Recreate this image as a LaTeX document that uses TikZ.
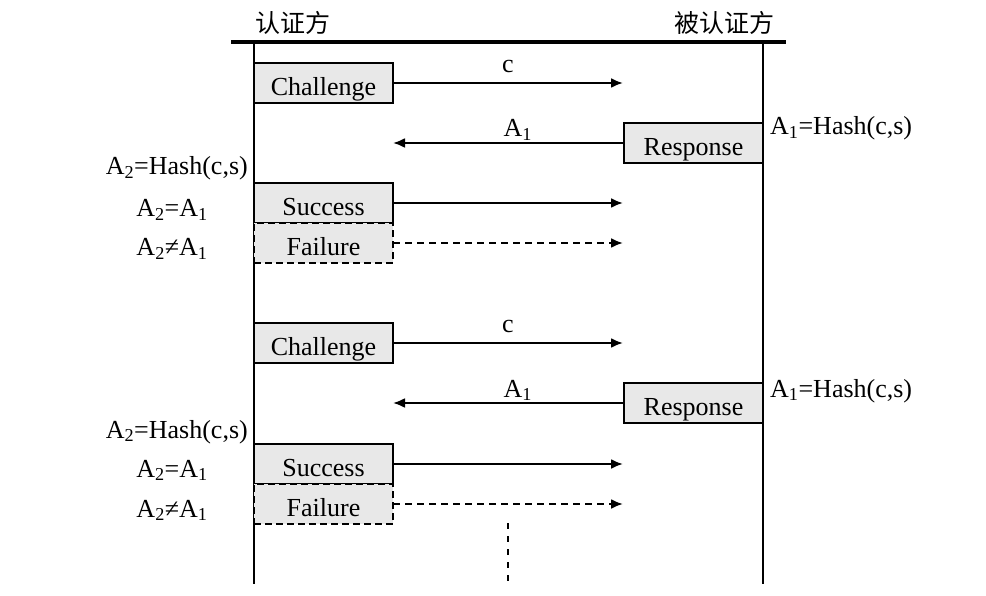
\documentclass[tikz,border=0pt]{standalone}
\usepackage{fontspec}
\setmainfont{Liberation Serif}
\newfontfamily\cjk{Noto Sans CJK SC}
\usetikzlibrary{arrows.meta}
\definecolor{boxgray}{RGB}{232,232,232}
\begin{document}
\begin{tikzpicture}[x=1pt,y=-1pt,
  font=\fontsize{26}{30}\selectfont,
  lane/.style={line width=2.4pt},
  msgbox/.style={draw, line width=2pt, fill=boxgray, minimum width=139pt, minimum height=40pt, inner sep=0pt, outer sep=0pt, text height=25pt, text depth=0pt, anchor=north west},
  failbox/.style={msgbox, dash pattern=on 7pt off 4pt},
  msg/.style={line width=2.2pt, -{Latex[length=12pt,width=10pt]}},
  failmsg/.style={msg, dash pattern=on 7pt off 5pt},
  lbl/.style={inner sep=0pt, anchor=base}]
\useasboundingbox (0,0) rectangle (986,596);

% headers
\node[inner sep=0pt, font=\cjk\fontsize{25}{28}\selectfont] (hv) at (293,23) {认证方};
\node[inner sep=0pt, font=\cjk\fontsize{25}{28}\selectfont] (hp) at (724,23) {被认证方};
\coordinate (tl) at (231,42);
\coordinate (tr) at (786,42);
\draw[line width=4pt] (tl) -- (tr);

% lifelines
\coordinate (Lt) at (254,42);
\coordinate (Lb) at (254,584);
\coordinate (Rt) at (763,42);
\coordinate (Rb) at (763,584);
\draw[lane] (Lt) -- (Lb);
\draw[lane] (Rt) -- (Rb);

% ---- round 1 ----
\node[msgbox] (ch1) at (254,63) {Challenge};
\coordinate (c1e) at (623,83);
\draw[msg] (ch1.east) -- node[lbl, yshift=10pt] (c1l) {c} (c1e);

\node[msgbox] (rs1) at (624,123) {Response};
\coordinate (a1e) at (393,143);
\draw[msg] (rs1.west) -- node[lbl, pos=0.46, yshift=6pt] (a1l) {A\textsubscript{1}} (a1e);
\node[lbl, anchor=base west] (r1h) at (770,135) {A\textsubscript{1}=Hash(c,s)};

\node[lbl, anchor=base east] (l1h) at (248,175) {A\textsubscript{2}=Hash(c,s)};
\node[msgbox] (su1) at (254,183) {Success};
\coordinate (s1e) at (623,203);
\draw[msg] (su1.east) -- (s1e);
\node[lbl] (l1eq) at (172,217) {A\textsubscript{2}=A\textsubscript{1}};

\node[failbox] (fa1) at (254,223) {Failure};
\coordinate (f1e) at (623,243);
\draw[failmsg] (fa1.east) -- (f1e);
\node[lbl] (l1ne) at (172,256) {A\textsubscript{2}≠A\textsubscript{1}};

% ---- round 2 ----
\node[msgbox] (ch2) at (254,323) {Challenge};
\coordinate (c2e) at (623,343);
\draw[msg] (ch2.east) -- node[lbl, yshift=10pt] (c2l) {c} (c2e);

\node[msgbox] (rs2) at (624,383) {Response};
\coordinate (a2e) at (393,403);
\draw[msg] (rs2.west) -- node[lbl, pos=0.46, yshift=6pt] (a2l) {A\textsubscript{1}} (a2e);
\node[lbl, anchor=base west] (r2h) at (770,397) {A\textsubscript{1}=Hash(c,s)};

\node[lbl, anchor=base east] (l2h) at (248,438) {A\textsubscript{2}=Hash(c,s)};
\node[msgbox] (su2) at (254,444) {Success};
\coordinate (s2e) at (623,464);
\draw[msg] (su2.east) -- (s2e);
\node[lbl] (l2eq) at (172,477) {A\textsubscript{2}=A\textsubscript{1}};

\node[failbox] (fa2) at (254,484) {Failure};
\coordinate (f2e) at (623,504);
\draw[failmsg] (fa2.east) -- (f2e);
\node[lbl] (l2ne) at (172,517) {A\textsubscript{2}≠A\textsubscript{1}};

% continuation
\coordinate (d1) at (508,523);
\coordinate (d2) at (508,584);
\draw[line width=2pt, dash pattern=on 6pt off 7pt] (d1) -- (d2);
\end{tikzpicture}
\end{document}
